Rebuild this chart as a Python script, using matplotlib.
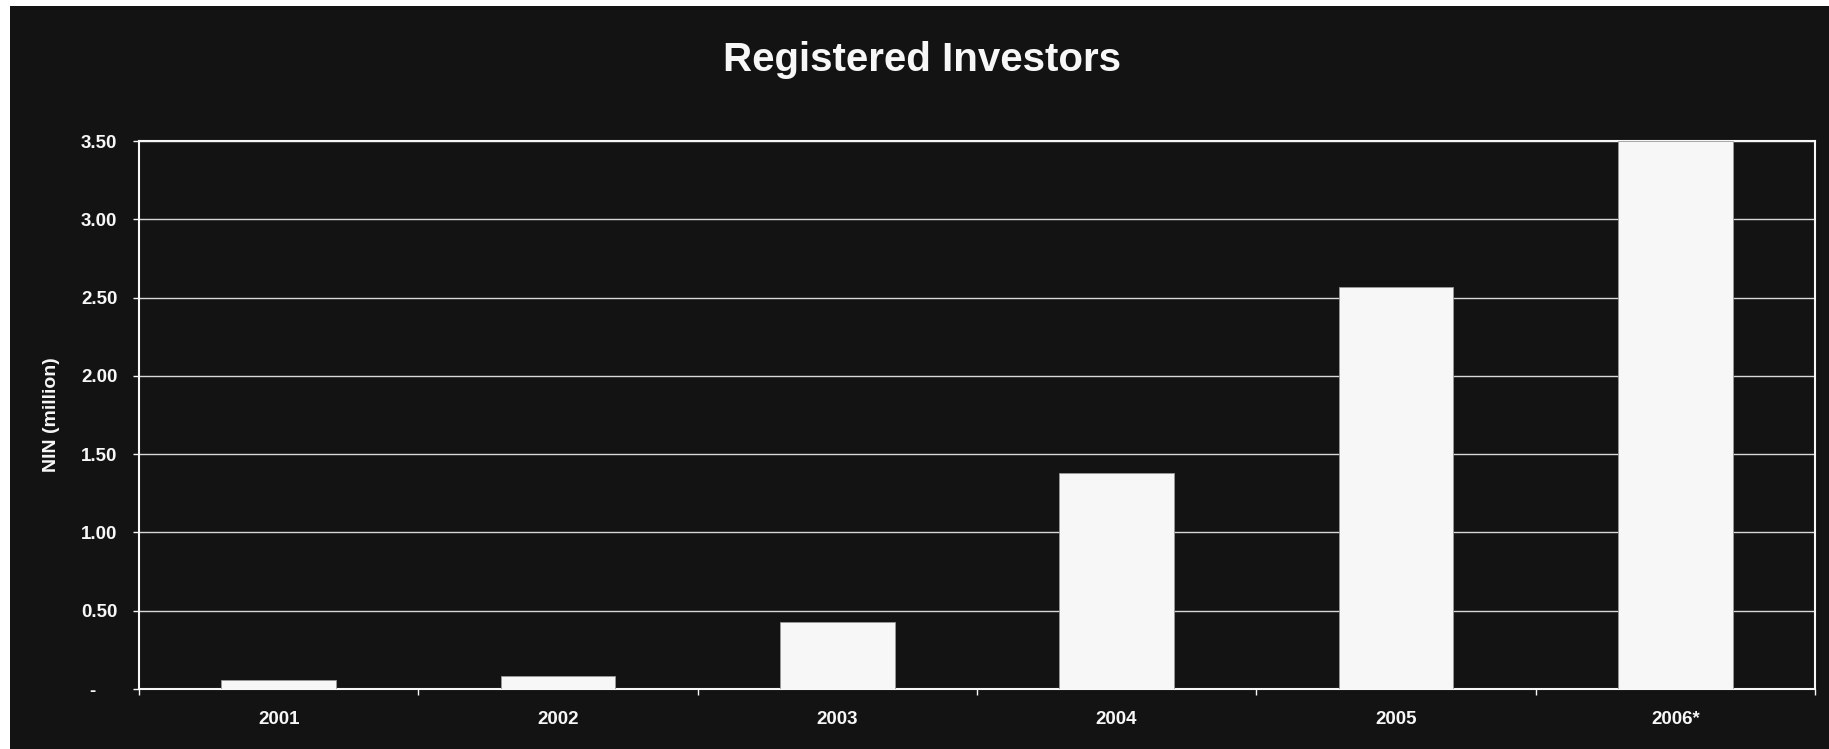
import matplotlib.pyplot as plt
from matplotlib.patches import Rectangle
from matplotlib.ticker import FixedLocator, MultipleLocator, FuncFormatter

plt.rcParams['font.family'] = ['Liberation Sans', 'DejaVu Sans']
plt.rcParams['font.weight'] = 'bold'

# Registered investors per year (NIN, million)
years = ["2001", "2002", "2003", "2004", "2005", "2006*"]
investors = [0.06, 0.08, 0.43, 1.38, 2.57, 3.50]

bg = '#131313'
fg = '#f7f7f7'

fig = plt.figure(figsize=(18.29, 7.49), dpi=100, facecolor='white')
# dark panel behind everything, leaving a thin white margin on the left and top
fig.patches.append(Rectangle((10 / 1829, 0), 1, 743 / 749, transform=fig.transFigure,
                             facecolor=bg, edgecolor='none', zorder=-10))

ax = fig.add_axes([0.076, 0.0801, 0.9163, 0.7316])
ax.set_facecolor(bg)

x = list(range(len(years)))
ax.bar(x, investors, width=0.41, color=fg, edgecolor='#9a9a9a', linewidth=0.6, zorder=3)

ax.set_xlim(-0.5, len(years) - 0.5)
ax.set_ylim(0, 3.5)

ax.yaxis.set_major_locator(MultipleLocator(0.5))
ax.yaxis.set_major_formatter(FuncFormatter(lambda v, p: "-    " if v == 0 else f"{v:.2f}"))
ax.grid(axis='y', color='#d8d8d8', linewidth=1.0, zorder=1)
ax.set_axisbelow(True)

ax.set_xticks(x)
ax.set_xticklabels(years)
ax.xaxis.set_minor_locator(FixedLocator([i - 0.5 for i in range(len(years) + 1)]))
ax.tick_params(axis='x', which='major', length=0, pad=16, labelsize=13.5, colors=fg)
ax.tick_params(axis='x', which='minor', length=4, width=1, color=fg, direction='out')
ax.tick_params(axis='y', length=4.5, width=1, color=fg, direction='out',
               pad=11, labelsize=13.5, labelcolor=fg)

for s in ax.spines.values():
    s.set_color(fg)
    s.set_linewidth(1.5)

ax.set_ylabel("NIN (million)", fontsize=14, color=fg, fontweight='bold', labelpad=15)
fig.text(0.504, 0.920, "Registered Investors", ha='center', va='center',
         fontsize=29, fontweight='bold', color=fg)

fig.savefig("out.png", dpi=100, facecolor=fig.get_facecolor())
